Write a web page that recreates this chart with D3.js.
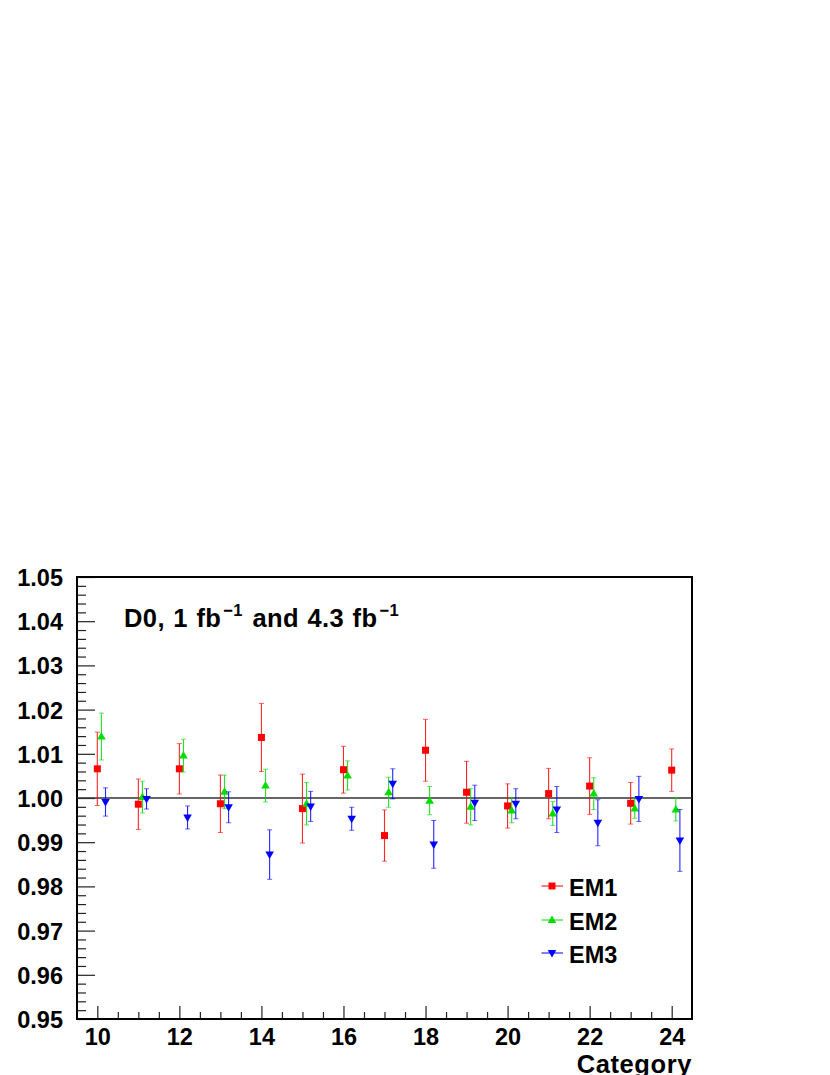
<!DOCTYPE html>
<html>
<head>
<meta charset="utf-8">
<script src="https://cdn.jsdelivr.net/npm/d3@7"></script>
<style>
  html, body { margin: 0; padding: 0; background: #fff; }
  svg { display: block; }
  text { font-family: "Liberation Sans", Arial, Helvetica, sans-serif; font-weight: bold; fill: #000; }
</style>
</head>
<body>
<svg id="chart" width="830" height="1075"></svg>
<script>
// ---- data ----
const categories = [10, 11, 12, 13, 14, 15, 16, 17, 18, 19, 20, 21, 22, 23, 24];
const em1Values = [1.0066, 0.9986, 1.0066, 0.9987, 1.0137, 0.9976, 1.0064, 0.9915, 1.0108, 1.0013, 0.9982, 1.0010, 1.0027, 0.9988, 1.0063];
const em1Errors = [0.0083, 0.0057, 0.0057, 0.0065, 0.0077, 0.0078, 0.0053, 0.0058, 0.0070, 0.0070, 0.0050, 0.0057, 0.0064, 0.0047, 0.0048];
const em2Values = [1.0139, 1.0002, 1.0096, 1.0014, 1.0028, 0.9987, 1.0051, 1.0013, 0.9994, 0.9980, 0.9972, 0.9965, 1.0010, 0.9976, 0.9974];
const em2Errors = [0.0053, 0.0036, 0.0037, 0.0038, 0.0037, 0.0048, 0.0033, 0.0034, 0.0032, 0.0041, 0.0028, 0.0027, 0.0036, 0.0022, 0.0026];
const em3Values = [0.9991, 0.9998, 0.9956, 0.9979, 0.9872, 0.9981, 0.9953, 1.0032, 0.9895, 0.9989, 0.9987, 0.9974, 0.9944, 0.9998, 0.9904];
const em3Errors = [0.0032, 0.0023, 0.0026, 0.0035, 0.0056, 0.0034, 0.0026, 0.0034, 0.0054, 0.0040, 0.0034, 0.0052, 0.0052, 0.0051, 0.0070];
const seriesNames = ["EM1", "EM2", "EM3"];
const yMajorTicks = [0.95, 0.96, 0.97, 0.98, 0.99, 1.00, 1.01, 1.02, 1.03, 1.04, 1.05];
const xMajorTicks = [10, 12, 14, 16, 18, 20, 22, 24];
const xTitle = "Category";

// ---- layout ----
const svg = d3.select("#chart");
const L = 77, R = 692, T = 577, B = 1019;
const x = d3.scaleLinear().domain([9.505, 24.495]).range([L, R]);
const y = d3.scaleLinear().domain([0.95, 1.05]).range([B, T]);

const styles = [
  { color: "#ff0000", shape: "square", offset: 0.0 },
  { color: "#00dd00", shape: "up", offset: 0.1 },
  { color: "#0000ff", shape: "down", offset: 0.2 }
];
const series = [
  { name: seriesNames[0], values: em1Values, errors: em1Errors },
  { name: seriesNames[1], values: em2Values, errors: em2Errors },
  { name: seriesNames[2], values: em3Values, errors: em3Errors }
];

// minor ticks
const yMinor = d3.range(0, 51).map(i => 0.95 + i * 0.002).filter(v => !yMajorTicks.some(m => Math.abs(m - v) < 1e-9));
const xMinor = d3.range(0, 30).map(i => 10 + i * 0.5).filter(v => v <= 24.4 && !xMajorTicks.includes(v));

// y axis
const yAxisMinor = svg.append("g").attr("transform", `translate(${L},0)`)
  .call(d3.axisLeft(y).tickValues(yMinor).tickSize(-9).tickFormat(""));
const yAxis = svg.append("g").attr("transform", `translate(${L},0)`)
  .call(d3.axisLeft(y).tickValues(yMajorTicks).tickSize(-18).tickPadding(14).tickFormat(d3.format(".2f")));
[yAxisMinor, yAxis].forEach(g => {
  g.select(".domain").remove();
  g.selectAll(".tick line").attr("stroke", "#222").attr("stroke-width", 1.2);
});
yAxis.selectAll(".tick text").attr("font-size", 23.5).attr("font-family", null).attr("dy", "0.36em");

// x axis
const xAxisMinor = svg.append("g").attr("transform", `translate(0,${B})`)
  .call(d3.axisBottom(x).tickValues(xMinor).tickSize(-7).tickFormat(""));
const xAxis = svg.append("g").attr("transform", `translate(0,${B})`)
  .call(d3.axisBottom(x).tickValues(xMajorTicks).tickSize(-13).tickPadding(9).tickFormat(d3.format("d")));
[xAxisMinor, xAxis].forEach(g => {
  g.select(".domain").remove();
  g.selectAll(".tick line").attr("stroke", "#222").attr("stroke-width", 1.2);
});
xAxis.selectAll(".tick text").attr("font-size", 23.5).attr("font-family", null);

// frame
svg.append("rect").attr("x", L).attr("y", T).attr("width", R - L).attr("height", B - T)
  .attr("fill", "none").attr("stroke", "#000").attr("stroke-width", 2);

// reference line at 1
svg.append("line").attr("x1", L).attr("x2", R).attr("y1", y(1)).attr("y2", y(1))
  .attr("stroke", "#333").attr("stroke-width", 1.3);

// markers
function markerPath(shape) {
  if (shape === "square") return "M-3.5,-3.5H3.5V3.5H-3.5Z";
  if (shape === "up") return "M0,-4.5L4.3,3L-4.3,3Z";
  return "M0,4.5L4.3,-3L-4.3,-3Z";
}

series.forEach((s, si) => {
  const st = styles[si];
  const g = svg.append("g");
  const pts = categories.map((c, i) => ({ c, v: s.values[i], e: s.errors[i] }));
  const pg = g.selectAll("g").data(pts).enter().append("g");
  pg.append("line")
    .attr("x1", d => x(d.c + st.offset)).attr("x2", d => x(d.c + st.offset))
    .attr("y1", d => y(d.v + d.e)).attr("y2", d => y(d.v - d.e))
    .attr("stroke", st.color).attr("stroke-width", 1.1).attr("opacity", 0.85);
  [1, -1].forEach(sign => {
    pg.append("line")
      .attr("x1", d => x(d.c + st.offset) - 2.5).attr("x2", d => x(d.c + st.offset) + 2.5)
      .attr("y1", d => y(d.v + sign * d.e)).attr("y2", d => y(d.v + sign * d.e))
      .attr("stroke", st.color).attr("stroke-width", 1).attr("opacity", 0.6);
  });
  pg.append("path")
    .attr("d", markerPath(st.shape))
    .attr("transform", d => `translate(${x(d.c + st.offset)},${y(d.v)})`)
    .attr("fill", st.color);
});

// title
const title = svg.append("text").attr("x", 124).attr("y", 627).attr("font-size", 25.5)
  .attr("letter-spacing", 0.4).attr("word-spacing", 1);
title.append("tspan").text("D0, 1 fb");
title.append("tspan").attr("font-size", 16.5).attr("dy", -11.5).attr("dx", 2).text("\u22121");
title.append("tspan").attr("dy", 11.5).attr("dx", 1).text(" and 4.3 fb");
title.append("tspan").attr("font-size", 16.5).attr("dy", -11.5).attr("dx", 2).text("\u22121");

// legend
const legendY = [886, 920, 953];
series.forEach((s, si) => {
  const st = styles[si];
  const g = svg.append("g").attr("transform", `translate(552,${legendY[si]})`);
  g.append("line").attr("x1", -10.5).attr("x2", 11).attr("y1", 0).attr("y2", 0)
    .attr("stroke", st.color).attr("stroke-width", 1);
  g.append("path").attr("d", markerPath(st.shape)).attr("fill", st.color);
  g.append("text").attr("x", 17).attr("y", 9.5).attr("font-size", 23.5).text(s.name);
});

// x title
svg.append("text").attr("x", R).attr("y", 1073).attr("text-anchor", "end")
  .attr("font-size", 25.5).attr("letter-spacing", 0.6).text(xTitle);
</script>
</body>
</html>
